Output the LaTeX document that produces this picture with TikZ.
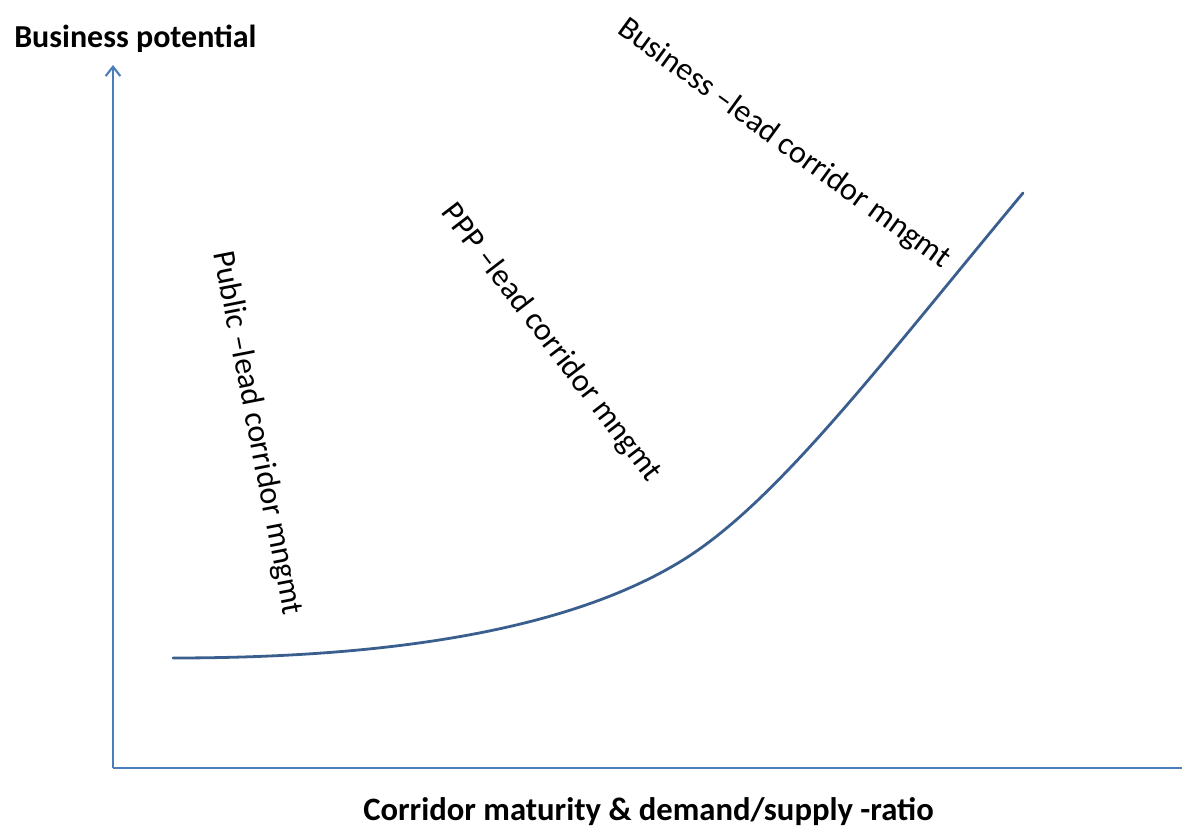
\documentclass[tikz,border=0pt]{standalone}
\usepackage{fontspec}
\setmainfont{Carlito}
\usetikzlibrary{arrows.meta}
\definecolor{axisblue}{HTML}{4A7EBB}
\definecolor{curveblue}{HTML}{3A5F8F}
\tikzset{
  axisline/.style={draw=axisblue, line width=1.6pt},
  curveline/.style={draw=curveblue, line width=2.1pt, line cap=round},
  axislabel/.style={font=\fontsize{24}{28}\selectfont\bfseries, inner sep=0pt},
  zonelabel/.style={font=\fontsize{24}{28}\selectfont, inner sep=0pt},
}
\begin{document}
\begin{tikzpicture}[x=0.75pt,y=-0.75pt]
\useasboundingbox (0,0) rectangle (1182,830);
\coordinate (origin) at (113,768);
\coordinate (ytop) at (113,65);
\coordinate (xend) at (1182,768);
\draw[axisline, -{Straight Barb[length=7pt,width=11pt,line width=1.6pt]}] (origin) -- (ytop);
\draw[axisline] (origin) -- (xend);
\node[axislabel, anchor=base west] (ylab) at (14,48) {Business potential};
\node[axislabel, font=\fontsize{24.5}{28}\selectfont\bfseries, anchor=base west] (xlab) at (363,820) {Corridor maturity \& demand/supply -ratio};
\coordinate (cstart) at (173,658);
\coordinate (cmid) at (683,560);
\coordinate (cend) at (1023,193);
\draw[curveline] (cstart) .. controls (373,658) and (563,634.4) .. (cmid)
  .. controls (778,501.1) and (883,361) .. (cend);
\node[zonelabel, rotate=-79] (public) at (257,433) {Public –lead corridor mngmt};
\node[zonelabel, rotate=-52.5] (ppp) at (551,343) {PPP –lead corridor mngmt};
\node[zonelabel, rotate=-36] (business) at (784,144) {Business –lead corridor mngmt};
\end{tikzpicture}
\end{document}
